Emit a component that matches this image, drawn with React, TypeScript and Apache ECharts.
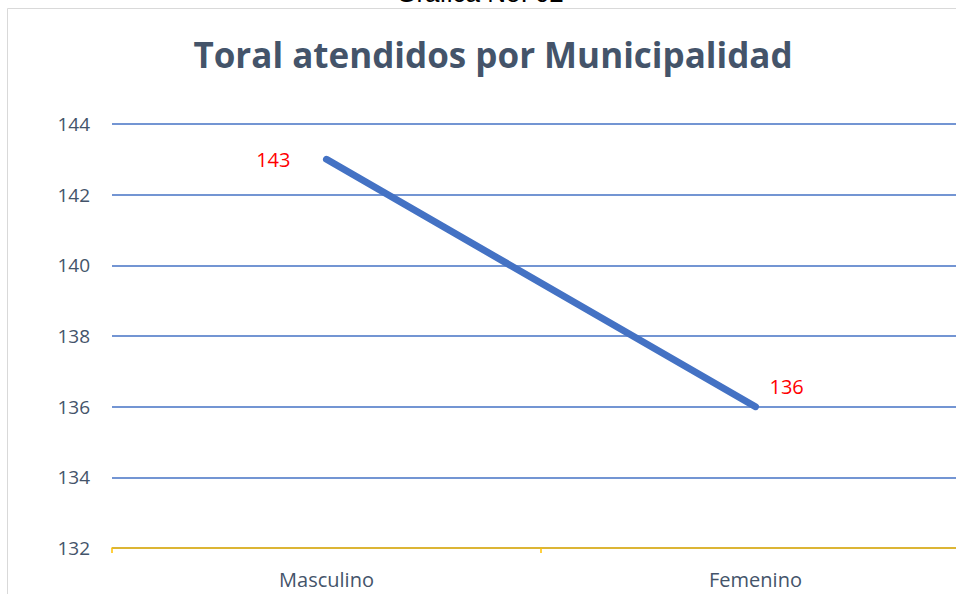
import React, { useEffect, useRef } from "react";
import * as echarts from "echarts";

const categories = ["Masculino", "Femenino"];
const values = [143, 136];
const chartTitle = "Toral atendidos por Municipalidad";
const topCaption = "Gráfica No. 02";

export default function App() {
  const ref = useRef<HTMLDivElement>(null);
  useEffect(() => {
    if (!ref.current) return;
    const chart = echarts.init(ref.current, undefined, { renderer: "svg" });
    chart.setOption({
      animation: false,
      backgroundColor: "#ffffff",
      title: {
        text: chartTitle,
        left: 488,
        textAlign: "center",
        top: 32,
        textStyle: {
          fontFamily: "Open Sans",
          fontWeight: "bold",
          fontSize: 35,
          color: "#44546A",
        },
      },
      graphic: [
        {
          type: "rect",
          shape: { x: 7.5, y: 8.5, width: 1000, height: 700 },
          style: { fill: "none", stroke: "#D9D9D9", lineWidth: 1 },
          silent: true,
        },
        {
          type: "text",
          x: 480,
          y: -7,
          style: {
            text: topCaption,
            fontFamily: "Liberation Sans",
            fontSize: 26,
            fill: "#000000",
            textAlign: "center",
            textVerticalAlign: "middle",
          },
        },
      ],
      grid: { left: 112, right: 0, top: 124, bottom: 46 },
      xAxis: {
        type: "category",
        data: categories,
        boundaryGap: true,
        axisLine: { lineStyle: { color: "#FFC000", width: 1.5 } },
        axisTick: { show: true, length: 5, lineStyle: { color: "#FFC000", width: 1.5 } },
        axisLabel: {
          color: "#44546A",
          fontFamily: "Open Sans",
          fontSize: 20,
          margin: 21,
        },
      },
      yAxis: {
        type: "value",
        min: 132,
        max: 144,
        interval: 2,
        axisLine: { show: false },
        axisTick: { show: false },
        splitLine: { lineStyle: { color: "#4472C4", width: 1.5 } },
        axisLabel: {
          color: "#44546A",
          fontFamily: "Open Sans",
          fontSize: 19,
          margin: 22,
        },
      },
      series: [
        {
          type: "line",
          data: values,
          symbol: "none",
          lineStyle: { color: "#4472C4", width: 7, cap: "round" },
          label: { show: false },
        },
        {
          type: "line",
          data: values,
          symbol: "none",
          lineStyle: { width: 0, opacity: 0 },
          label: { show: false },
          markPoint: {
            symbol: "circle",
            symbolSize: 0,
            data: [
              {
                coord: [0, values[0]],
                value: values[0],
                label: {
                  show: true,
                  position: "left",
                  distance: 36,
                  color: "#FF0000",
                  fontFamily: "Open Sans",
                  fontSize: 20,
                  formatter: String(values[0]),
                },
              },
              {
                coord: [1, values[1]],
                value: values[1],
                label: {
                  show: true,
                  position: "right",
                  offset: [0, -20],
                  distance: 14,
                  color: "#FF0000",
                  fontFamily: "Open Sans",
                  fontSize: 20,
                  formatter: String(values[1]),
                },
              },
            ],
          },
        },
      ],
    });
    return () => chart.dispose();
  }, []);
  return (
    <div style={{ width: 956, height: 594, position: "absolute", left: 0, top: 0, overflow: "hidden" }}>
      <div ref={ref} style={{ width: 970, height: 594 }} />
    </div>
  );
}
